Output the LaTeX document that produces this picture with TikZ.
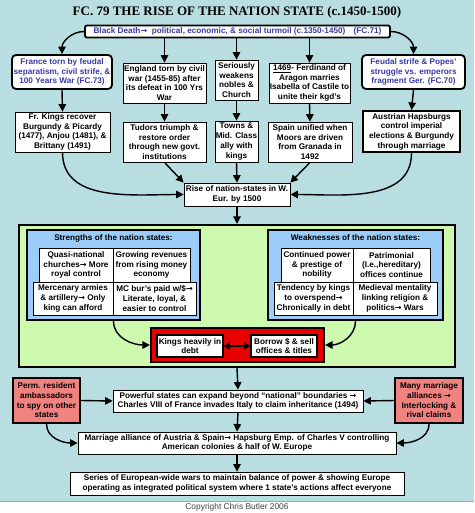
\documentclass[tikz,border=0pt]{standalone}
\usepackage{fontspec}
\setmainfont{Liberation Sans}
\newfontfamily\titlefont{Liberation Serif}
\newfontfamily\arrowfont{DejaVu Sans}
\newcommand{\ra}{{\arrowfont\bfseries\fontsize{8}{8}\selectfont →}}
\usetikzlibrary{arrows.meta, positioning, calc}
\definecolor{bgteal}{RGB}{184,222,226}
\definecolor{linkblue}{RGB}{58,58,165}
\definecolor{panelgreen}{RGB}{206,250,176}
\definecolor{panelblue}{RGB}{156,204,248}
\definecolor{alarmred}{RGB}{232,0,0}
\definecolor{salmon}{RGB}{240,130,128}

\begin{document}
\begin{tikzpicture}[x=1pt, y=1pt,
    txt/.style={font=\bfseries\fontsize{8.2}{9.7}\selectfont, align=center, inner sep=0.5pt},
    cell/.style={txt, draw, fill=white, line width=0.8pt},
    fcbox/.style={txt, draw, fill=white, rounded corners=4pt, line width=1.8pt, text=linkblue},
    heavy/.style={cell, line width=2pt},
    panel/.style={draw, line width=2.2pt},
    arr/.style={-{Triangle[length=7.5pt, width=7.5pt]}, line width=1.4pt},
    dbl/.style={{Triangle[length=6pt, width=7pt]}-{Triangle[length=6pt, width=7pt]}, line width=1.4pt}
]
\useasboundingbox (0,0) rectangle (474,-513);
% Background and footer strip
\fill[bgteal] (0,0) rectangle (474,-501);
\fill[white] (0,-501) rectangle (474,-513);
\draw[gray!70, line width=0.8pt] (0,-501) -- (474,-501);
\node[font=\fontsize{8.4}{9}\selectfont, text=black!75] (copy) at (237,-507.5) {Copyright Chris Butler 2006};

% Title and first cause
\node[font=\titlefont\bfseries\fontsize{13}{14}\selectfont] (title) at (237,-12) {FC. 79 THE RISE OF THE NATION STATE (c.1450-1500)};
\node[fcbox, rounded corners=2pt, minimum width=305pt, minimum height=12pt] (blackd) at (237.5,-31.5)
    {Black Death\ra\ \ political, economic, \& social turmoil (c.1350-1450)\quad(FC.71)};

% Row 1
\node[fcbox, minimum width=100pt, minimum height=34pt] (france) at (62,-72)
    {France torn by feudal\\separatism, civil strife, \&\\100 Years War (FC.73)};
\node[cell, minimum width=83pt, minimum height=40pt] (england) at (164.5,-83)
    {England torn by civil\\war (1455-85) after\\its defeat in 100 Yrs\\War};
\node[cell, minimum width=43pt, minimum height=40pt] (weaken) at (236.5,-80)
    {Seriously\\weakens\\nobles \&\\Church};
\node[cell, minimum width=81pt, minimum height=40pt] (ferd) at (309.5,-83)
    {\underline{1469}- Ferdinand of\\Aragon marries\\Isabella of Castile to\\unite their kgd's};
\node[fcbox, minimum width=103pt, minimum height=34pt] (feudal) at (413.5,-72)
    {Feudal strife \& Popes'\\struggle vs. emperors\\fragment Ger. (FC.70)};

% Row 2
\node[cell, minimum width=95pt, minimum height=40pt] (frking) at (62.5,-132)
    {Fr. Kings recover\\Burgundy \& Picardy\\(1477), Anjou (1481), \&\\Brittany (1491)};
\node[cell, minimum width=83pt, minimum height=40pt] (tudor) at (164.5,-142)
    {Tudors triumph \&\\restore order\\through new govt.\\institutions};
\node[cell, minimum width=43pt, minimum height=41pt] (towns) at (236.5,-141.5)
    {Towns \&\\Mid. Class\\ally with\\kings};
\node[cell, minimum width=84pt, minimum height=40pt] (spain) at (310,-142)
    {Spain unified when\\Moors are driven\\from Granada in\\1492};
\node[heavy, minimum width=97pt, minimum height=41pt] (austr) at (411.5,-131.5)
    {Austrian Hapsburgs\\control imperial\\elections \& Burgundy\\through marriage};

\node[cell, minimum width=106pt, minimum height=23pt] (rise) at (237,-194.5)
    {Rise of nation-states in W.\\Eur. by 1500};

% Green panel with strengths and weaknesses
\node[panel, fill=panelgreen, minimum width=436pt, minimum height=142pt] (green) at (237,-296) {};
\node[panel, fill=panelblue, minimum width=173pt, minimum height=90pt] (strong) at (113.5,-275) {};
\node[txt, anchor=north] (strongt) at ([yshift=-5pt]strong.north) {Strengths of the nation states:};
\node[cell, minimum width=74pt, minimum height=34pt] (quasi) at (76,-265)
    {Quasi-national\\churches\ra\ More\\royal control};
\node[cell, minimum width=77pt, minimum height=34pt] (grow) at (151.5,-265)
    {Growing revenues\\from rising money\\economy};
\node[cell, minimum width=80pt, minimum height=33pt] (merc) at (73,-298.5)
    {Mercenary armies\\\& artillery\ra\ Only\\king can afford};
\node[cell, minimum width=83pt, minimum height=33pt] (mcbur) at (154.5,-298.5)
    {MC bur's paid w/\$\ra\\Literate, loyal, \&\\easier to control};

\node[panel, fill=panelblue, minimum width=175pt, minimum height=90pt] (weak) at (355.5,-275) {};
\node[txt, anchor=north] (weakt) at ([yshift=-5pt]weak.north) {Weaknesses of the nation states:};
\node[cell, minimum width=72pt, minimum height=34pt] (contin) at (317,-265)
    {Continued power\\\& prestige of\\nobility};
\node[cell, minimum width=77pt, minimum height=34pt] (patrim) at (391.5,-265)
    {Patrimonial\\(I.e.,hereditary)\\offices continue};
\node[cell, minimum width=79pt, minimum height=33pt] (tend) at (313.5,-298.5)
    {Tendency by kings\\to overspend\ra\\Chronically in debt};
\node[cell, minimum width=84pt, minimum height=33pt] (mediev) at (395,-298.5)
    {Medieval mentality\\linking religion \&\\politics\ra\ Wars};

% Debt trap
\node[panel, fill=alarmred, minimum width=173pt, minimum height=34pt] (redbox) at (237.5,-345) {};
\node[cell, line width=1.4pt, minimum width=66pt, minimum height=22pt] (kings) at (190,-346)
    {Kings heavily in\\debt};
\node[cell, line width=1.4pt, minimum width=66pt, minimum height=22pt] (borrow) at (284,-346)
    {Borrow \$ \& sell\\offices \& titles};

% Lower chain
\node[heavy, fill=salmon, minimum width=67pt, minimum height=45pt] (perm) at (46.5,-400.5)
    {Perm. resident\\ambassadors\\to spy on other\\states};
\node[heavy, fill=salmon, minimum width=68pt, minimum height=45pt] (many) at (429,-400.5)
    {Many marriage\\alliances \ra\\Interlocking \&\\rival claims};
\node[cell, minimum width=250pt, minimum height=22pt] (power) at (238,-401)
    {Powerful states can expand beyond “national” boundaries \ra\\Charles VIII of France invades Italy to claim inheritance (1494)};
\node[cell, minimum width=318pt, minimum height=22pt] (marry) at (237,-443)
    {Marriage alliance of Austria \& Spain\ra\ Hapsburg Emp. of Charles V controlling\\American colonies \& half of W. Europe};
\node[cell, minimum width=334pt, minimum height=23pt] (series) at (237,-483.5)
    {Series of European-wide wars to maintain balance of power \& showing Europe\\operating as integrated political system where 1 state's actions affect everyone};

% Connections
\draw[arr] (blackd.west) to[out=180, in=90] (france.north);
\draw[arr] (blackd.south -| england.north) -- (england.north);
\draw[arr] (blackd.south -| weaken.north) -- (weaken.north);
\draw[arr] (blackd.south -| ferd.north) -- (ferd.north);
\draw[arr] (blackd.east) to[out=0, in=90] (feudal.north);
\draw[arr] (france.south) -- (frking.north);
\draw[arr] (england.south) -- (tudor.north);
\draw[arr] (weaken.south) -- (towns.north);
\draw[arr] (ferd.south) -- (spain.north);
\draw[arr] (feudal.south) -- (austr.north);
\draw[arr] (frking.south) to[out=-90, in=180] (rise.west);
\draw[arr] (tudor.south) -- (rise.north west);
\draw[arr] (towns.south) -- (rise.north);
\draw[arr] (spain.south) -- (rise.north east);
\draw[arr] (austr.south) to[out=-90, in=0] (rise.east);
\draw[arr] (rise.south) -- (green.north);
\draw[arr] (strong.south) to[out=-90, in=180] (redbox.west);
\draw[arr] (weak.south) to[out=-90, in=0] (redbox.east);
\draw[dbl] (kings.east) -- (borrow.west);
\draw[arr] (green.south) -- (power.north);
\draw[arr] (perm.east) -- (power.west);
\draw[arr] (many.west) -- (power.east);
\draw[arr] (power.south) -- (marry.north);
\draw[arr] (perm.south) to[out=-90, in=180] (marry.west);
\draw[arr] (many.south) to[out=-90, in=0] (marry.east);
\draw[arr] (marry.south) -- (series.north);
\end{tikzpicture}
\end{document}
